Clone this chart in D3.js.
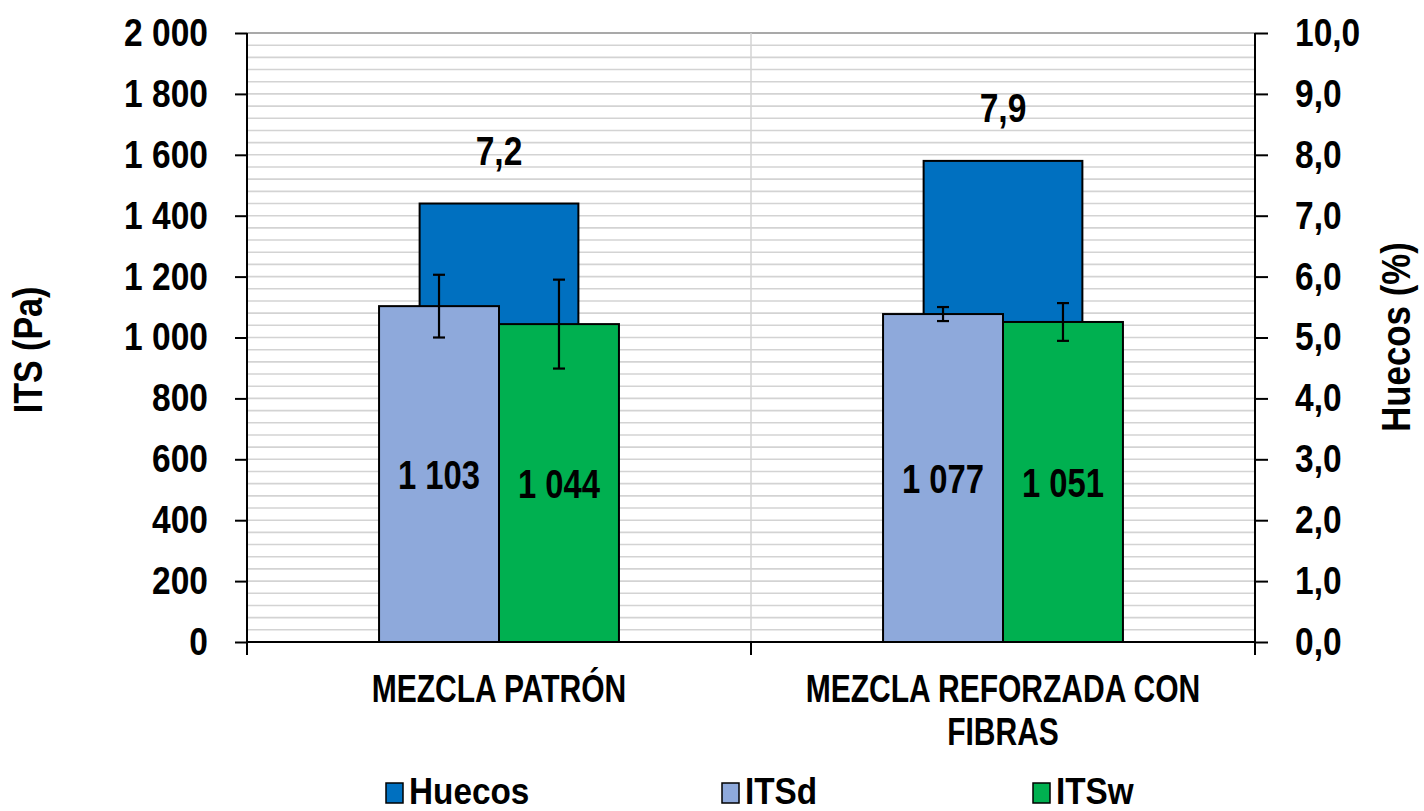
<!DOCTYPE html>
<html lang="es">
<head>
<meta charset="UTF-8">
<title>ITS y huecos</title>
<script src="https://cdn.jsdelivr.net/npm/d3@7"></script>
<style>
  body { margin: 0; background: #fff; }
  text { font-family: "Liberation Sans Narrow", "Arial Narrow", "Liberation Sans", Arial, sans-serif; font-weight: bold; fill: #000; }
</style>
</head>
<body>
<svg id="chart" width="1424" height="811"></svg>
<script>
// datos
const categories = ["MEZCLA PATRÓN", "MEZCLA REFORZADA CON FIBRAS"];
const huecos = [7.2, 7.9];          // %
const itsd = [1103, 1077];          // Pa
const itsw = [1044, 1051];          // Pa
const itsdErr = [103, 23];
const itswErr = [146, 62];
const leftTicks = [0, 200, 400, 600, 800, 1000, 1200, 1400, 1600, 1800, 2000];
const rightTicks = [0, 1, 2, 3, 4, 5, 6, 7, 8, 9, 10];
const minorStep = 40;
const seriesNames = ["Huecos", "ITSd", "ITSw"];
const seriesColors = ["#0070C0", "#8EA9DB", "#00B050"];

const svg = d3.select("#chart");
const pLeft = 247, pRight = 1255, pTop = 33, pBottom = 642;

const es = d3.formatLocale({decimal: ",", thousands: " ", grouping: [3], currency: ["", ""]});
const fmtInt = es.format(",d");
const fmtDec = es.format(".1f");

// no hay Arial Narrow: se estrecha la fuente normal
function squeeze(sel, sx) {
    sel.each(function() {
        const t = d3.select(this);
        const tx = +t.attr("x") || 0, ty = +t.attr("y") || 0;
        t.attr("x", 0).attr("y", 0).attr("transform", `translate(${tx},${ty}) scale(${sx},1)`);
    });
}

const x = d3.scaleBand().domain(categories).range([pLeft, pRight]);
const yL = d3.scaleLinear().domain([0, 2000]).range([pBottom, pTop]);
const yR = d3.scaleLinear().domain([0, 10]).range([pBottom, pTop]);

// rejilla
svg.append("g").selectAll("line")
    .data(d3.range(minorStep, 2000, minorStep))
    .join("line")
    .attr("x1", pLeft).attr("x2", pRight)
    .attr("y1", d => yL(d)).attr("y2", d => yL(d))
    .attr("stroke", "#d3d3d3").attr("stroke-width", 1.6);
svg.append("line")
    .attr("x1", pLeft).attr("x2", pRight).attr("y1", pTop).attr("y2", pTop)
    .attr("stroke", "#8c8c8c").attr("stroke-width", 1.5);
svg.append("line")
    .attr("x1", x(categories[1])).attr("x2", x(categories[1]))
    .attr("y1", pTop).attr("y2", pBottom)
    .attr("stroke", "#d3d3d3").attr("stroke-width", 1.5);

const huecoW = x.bandwidth() * 0.315;
const inner = d3.scaleBand().domain(["ITSd", "ITSw"])
    .range([-x.bandwidth() * 0.238, x.bandwidth() * 0.238]);
const cx = c => x(c) + x.bandwidth() / 2;

// barras Huecos (eje derecho)
svg.append("g").selectAll("rect")
    .data(categories)
    .join("rect")
    .attr("x", c => cx(c) - huecoW / 2)
    .attr("width", huecoW)
    .attr("y", (c, i) => yR(huecos[i]))
    .attr("height", (c, i) => pBottom - yR(huecos[i]))
    .attr("fill", seriesColors[0]).attr("stroke", "#000").attr("stroke-width", 2);

svg.append("g").selectAll("text")
    .data(categories)
    .join("text")
    .attr("x", cx)
    .attr("y", (c, i) => yR(huecos[i]) - 39)
    .attr("text-anchor", "middle")
    .attr("font-size", 41)
    .text((c, i) => fmtDec(huecos[i]))
    .call(squeeze, 0.82);

// barras ITS
const its = [
    {key: "ITSd", vals: itsd, err: itsdErr, color: seriesColors[1]},
    {key: "ITSw", vals: itsw, err: itswErr, color: seriesColors[2]}
];
its.forEach(s => {
    const g = svg.append("g");
    const bx = c => cx(c) + inner(s.key);
    g.selectAll("rect")
        .data(categories)
        .join("rect")
        .attr("x", bx)
        .attr("width", inner.bandwidth())
        .attr("y", (c, i) => yL(s.vals[i]))
        .attr("height", (c, i) => pBottom - yL(s.vals[i]))
        .attr("fill", s.color).attr("stroke", "#000").attr("stroke-width", 2);
    g.selectAll("text")
        .data(categories)
        .join("text")
        .attr("x", c => bx(c) + inner.bandwidth() / 2)
        .attr("y", (c, i) => (yL(s.vals[i]) + pBottom) / 2)
        .attr("dy", "0.36em")
        .attr("text-anchor", "middle")
        .attr("font-size", 41)
        .text((c, i) => fmtInt(s.vals[i]))
        .call(squeeze, 0.8);
    s.bx = bx;
});

// barras de error
its.forEach(s => {
    const g = svg.append("g").attr("stroke", "#000").attr("stroke-width", 2.2);
    categories.forEach((c, i) => {
        const mx = s.bx(c) + inner.bandwidth() / 2;
        const y1 = yL(s.vals[i] + s.err[i]), y2 = yL(s.vals[i] - s.err[i]);
        g.append("line").attr("x1", mx).attr("x2", mx).attr("y1", y1).attr("y2", y2);
        g.append("line").attr("x1", mx - 6).attr("x2", mx + 6).attr("y1", y1).attr("y2", y1);
        g.append("line").attr("x1", mx - 6).attr("x2", mx + 6).attr("y1", y2).attr("y2", y2);
    });
});

// ejes
const axL = svg.append("g").attr("transform", `translate(${pLeft},0)`)
    .call(d3.axisLeft(yL).tickValues(leftTicks).tickSize(12).tickPadding(27).tickFormat(fmtInt));
const axR = svg.append("g").attr("transform", `translate(${pRight},0)`)
    .call(d3.axisRight(yR).tickValues(rightTicks).tickSize(13).tickPadding(27).tickFormat(fmtDec));
[axL, axR].forEach(a => {
    a.attr("font-family", null).attr("font-size", null);
    a.select(".domain").attr("stroke", "#000").attr("stroke-width", 2)
        .attr("d", `M0,${pTop}V${pBottom}`);
    a.selectAll(".tick line").attr("stroke", "#000").attr("stroke-width", 2);
    a.selectAll(".tick text").attr("font-size", 39).attr("fill", "#000").call(squeeze, 0.86);
});

svg.append("line").attr("x1", pLeft).attr("x2", pRight).attr("y1", pBottom).attr("y2", pBottom)
    .attr("stroke", "#000").attr("stroke-width", 2);
svg.append("g").selectAll("line")
    .data([pLeft, x(categories[1]), pRight])
    .join("line")
    .attr("x1", d => d).attr("x2", d => d).attr("y1", pBottom).attr("y2", pBottom + 13)
    .attr("stroke", "#000").attr("stroke-width", 2);

// etiquetas de categoría
const catSx = 0.79;
const catText = svg.append("g").selectAll("text")
    .data(categories)
    .join("text")
    .attr("transform", c => `translate(${cx(c)},702) scale(${catSx},1)`)
    .attr("text-anchor", "middle")
    .attr("font-size", 38);
catText.each(function(c) {
    const t = d3.select(this);
    const words = c.split(" ");
    let line = [], tsp = t.append("tspan").attr("x", 0);
    words.forEach(w => {
        line.push(w);
        tsp.text(line.join(" "));
        if (tsp.node().getComputedTextLength() * catSx > x.bandwidth() * 0.86 && line.length > 1) {
            line.pop();
            tsp.text(line.join(" "));
            line = [w];
            tsp = t.append("tspan").attr("x", 0).attr("dy", 43).text(w);
        }
    });
});

// títulos de ejes
svg.append("text")
    .attr("transform", `translate(42,350) rotate(-90) scale(0.83,1)`)
    .attr("text-anchor", "middle").attr("font-size", 41)
    .text("ITS (Pa)");
svg.append("text")
    .attr("transform", `translate(1410,337) rotate(-90) scale(0.85,1)`)
    .attr("text-anchor", "middle").attr("font-size", 41)
    .text("Huecos (%)");

// leyenda
const legX = [386, 722, 1033];
const leg = svg.append("g").selectAll("g")
    .data(seriesNames)
    .join("g")
    .attr("transform", (d, i) => `translate(${legX[i]},0)`);
leg.append("rect")
    .attr("x", 0).attr("y", 783).attr("width", 17).attr("height", 20)
    .attr("fill", (d, i) => seriesColors[i]).attr("stroke", "#000").attr("stroke-width", 1.5);
leg.append("text")
    .attr("x", 23).attr("y", 804)
    .attr("font-size", 37)
    .text(d => d)
    .call(squeeze, 0.9);
</script>
</body>
</html>
